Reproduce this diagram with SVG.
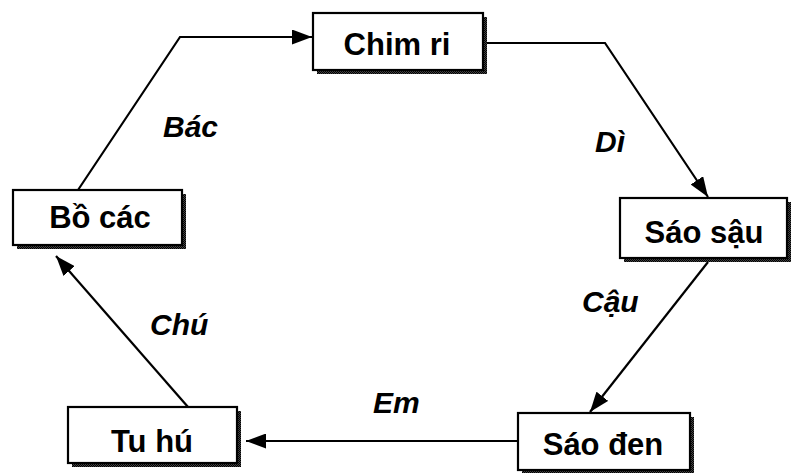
<svg xmlns="http://www.w3.org/2000/svg" width="793" height="473" viewBox="0 0 793 473">
  <defs>
    <!-- stippled drop shadow -->
    <pattern id="stipple" width="2" height="2" patternUnits="userSpaceOnUse">
      <rect width="2" height="2" fill="#444"/>
      <rect width="1" height="1" fill="#000"/>
      <rect x="1" y="1" width="1" height="1" fill="#000"/>
    </pattern>
    <marker id="arrow" viewBox="0 0 20 15" refX="20" refY="7.5" markerWidth="20" markerHeight="15" markerUnits="userSpaceOnUse" orient="auto">
      <path d="M0,0 L20,7.5 L0,15 z" fill="#000"/>
    </marker>
    <style>
      .box { fill: #fff; stroke: #000; stroke-width: 2.2; }
      .shadow { fill: url(#stipple); }
      .node-text { font-family: "Liberation Sans", Arial, sans-serif; font-weight: bold; font-size: 31px; text-anchor: middle; fill: #000; }
      .label { font-family: "Liberation Sans", Arial, sans-serif; font-weight: bold; font-style: italic; font-size: 30px; fill: #000; }
      .edge { fill: none; stroke: #000; stroke-width: 2.2; marker-end: url(#arrow); }
    </style>
  </defs>

  <rect width="793" height="473" fill="#fff"/>

  <!-- connectors -->
  <g id="connectors">
    <polyline class="edge" points="78,190 180,37 312,37"/>
    <polyline class="edge" points="487,43 605,43 708,197"/>
    <polyline class="edge" points="708,262 590,412"/>
    <polyline class="edge" points="518,441 246,441"/>
    <polyline class="edge" points="188,407 56,256"/>
  </g>

  <!-- nodes -->
  <g id="chim-ri">
    <rect class="shadow" x="317" y="17" width="170" height="57"/>
    <rect class="box" x="313" y="13" width="170" height="57"/>
    <text class="node-text" x="397" y="55">Chim ri</text>
  </g>
  <g id="bo-cac">
    <rect class="shadow" x="17" y="194" width="169" height="55"/>
    <rect class="box" x="13" y="190" width="169" height="55"/>
    <text class="node-text" x="100" y="228">Bồ các</text>
  </g>
  <g id="sao-sau">
    <rect class="shadow" x="624" y="202" width="167" height="60"/>
    <rect class="box" x="620" y="198" width="167" height="60"/>
    <text class="node-text" x="704" y="243">Sáo sậu</text>
  </g>
  <g id="sao-den">
    <rect class="shadow" x="522" y="417" width="172" height="57"/>
    <rect class="box" x="518" y="413" width="172" height="57"/>
    <text class="node-text" x="603" y="455">Sáo đen</text>
  </g>
  <g id="tu-hu">
    <rect class="shadow" x="72" y="411" width="169" height="56"/>
    <rect class="box" x="68" y="407" width="169" height="56"/>
    <text class="node-text" x="152" y="452">Tu hú</text>
  </g>

  <!-- edge labels -->
  <g id="labels">
    <text class="label" x="163" y="137">Bác</text>
    <text class="label" x="595" y="152">Dì</text>
    <text class="label" x="582" y="312">Cậu</text>
    <text class="label" x="150" y="335">Chú</text>
    <text class="label" x="373" y="413">Em</text>
  </g>
</svg>
